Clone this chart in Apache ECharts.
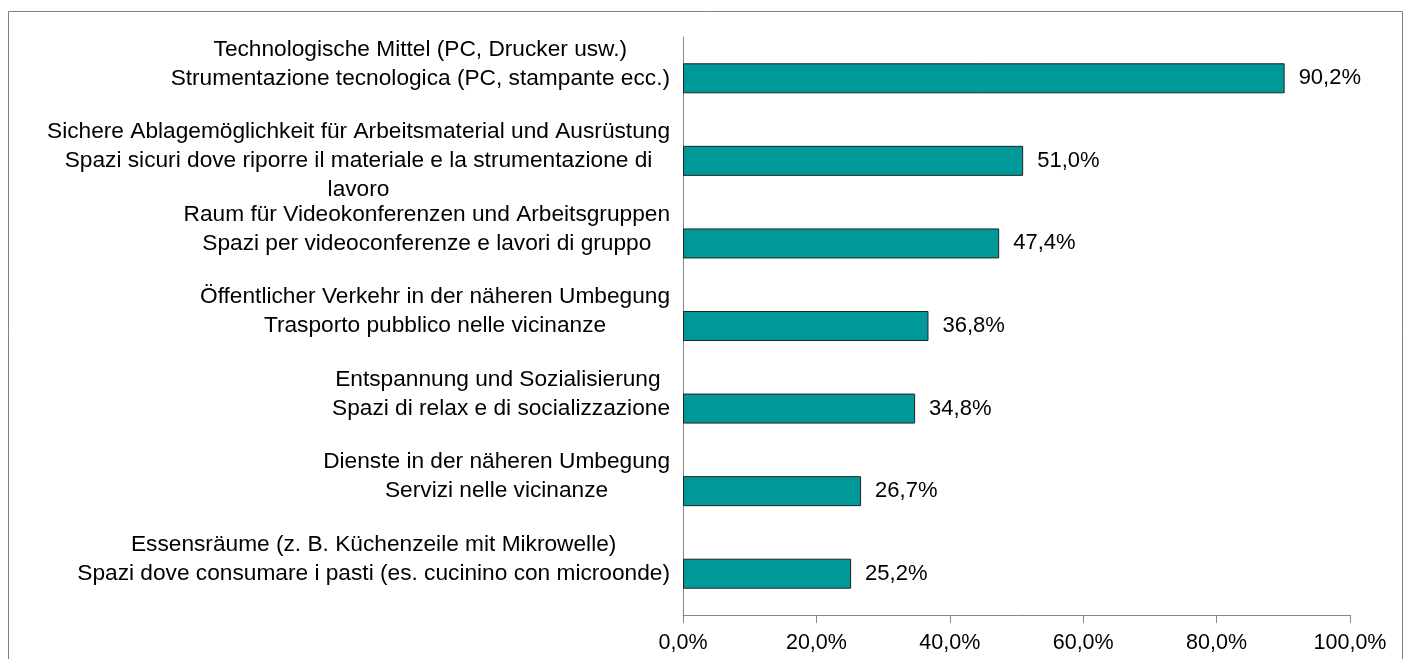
<!DOCTYPE html>
<html>
<head>
<meta charset="utf-8">
<script src="https://cdn.jsdelivr.net/npm/echarts@6/dist/echarts.min.js"></script>
<style>
  html, body { margin: 0; padding: 0; background: #fff; }
  #chart { width: 1408px; height: 659px; }
</style>
</head>
<body>
<div id="chart"></div>
<script>
  // categories (DE / IT), top to bottom
  const categories = [
    'Technologische Mittel (PC, Drucker usw.)\nStrumentazione tecnologica (PC, stampante ecc.)',
    'Sichere Ablagemöglichkeit für Arbeitsmaterial und Ausrüstung\nSpazi sicuri dove riporre il materiale e la strumentazione di\nlavoro',
    'Raum für Videokonferenzen und Arbeitsgruppen\nSpazi per videoconferenze e lavori di gruppo',
    'Öffentlicher Verkehr in der näheren Umbegung\nTrasporto pubblico nelle vicinanze',
    'Entspannung und Sozialisierung \nSpazi di relax e di socializzazione',
    'Dienste in der näheren Umbegung\nServizi nelle vicinanze',
    'Essensräume (z. B. Küchenzeile mit Mikrowelle)\nSpazi dove consumare i pasti (es. cucinino con microonde)'
  ]
  const values = [90.2, 51.0, 47.4, 36.8, 34.8, 26.7, 25.2]
  const xTicks = [0, 20, 40, 60, 80, 100]

  const fmtPct = (v) => v.toFixed(1).replace('.', ',') + '%'
  const font = 'Liberation Sans, Arial, sans-serif'

  const chart = echarts.init(document.getElementById('chart'))

  chart.setOption({
    animation: false,
    textStyle: { fontFamily: font },
    graphic: [{
      type: 'rect',
      shape: { x: 8.5, y: 11.5, width: 1394, height: 700 },
      style: { fill: 'none', stroke: '#808080', lineWidth: 1 },
      silent: true
    }],
    grid: {
      left: 683,
      right: 58,
      top: 37,
      bottom: 44
    },
    xAxis: {
      type: 'value',
      min: xTicks[0],
      max: xTicks[xTicks.length - 1],
      interval: 20,
      splitLine: { show: false },
      axisLine: { show: true, lineStyle: { color: '#868686', width: 1 } },
      axisTick: { show: true, length: 8, lineStyle: { color: '#868686' } },
      axisLabel: {
        color: '#000',
        fontSize: 21.5,
        fontFamily: font,
        margin: 17,
        formatter: (v) => fmtPct(v)
      }
    },
    yAxis: {
      type: 'category',
      inverse: true,
      data: categories,
      axisLine: { show: true, lineStyle: { color: '#868686', width: 1 } },
      axisTick: { show: false },
      axisLabel: {
        align: 'right',
        margin: 13,
        formatter: (v) => {
          const lines = v.split('\n')
          // two-line labels sit with their second line on the bar
          if (lines.length === 2) lines.push(' ')
          return lines.map(l => '{c|' + l + '}').join('\n')
        },
        rich: {
          c: {
            align: 'center',
            fontSize: 22.7,
            lineHeight: 29,
            color: '#000',
            fontFamily: font
          }
        }
      }
    },
    series: [{
      type: 'bar',
      data: values,
      barWidth: 30,
      itemStyle: {
        color: '#009999',
        borderColor: '#222',
        borderWidth: 1
      },
      label: {
        show: true,
        position: 'right',
        distance: 14,
        color: '#000',
        fontSize: 22,
        fontFamily: font,
        formatter: (p) => fmtPct(p.value)
      }
    }]
  })
</script>
</body>
</html>
